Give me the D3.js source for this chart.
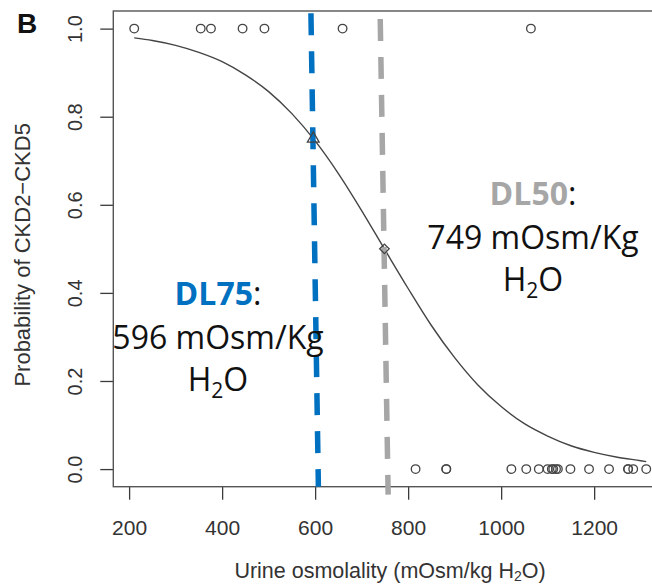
<!DOCTYPE html>
<html>
<head>
<meta charset="utf-8">
<script src="https://cdn.jsdelivr.net/npm/d3@7"></script>
<style>
  body { margin: 0; background: #fff; }
  svg { display: block; }
</style>
</head>
<body>
<script>
// data
var highOsm = [211, 354, 376, 444, 491, 659, 1064];               // observed at p = 1
var lowOsm = [816, 882, 882, 1022, 1054, 1081, 1100, 1109, 1112, 1118, 1122,
              1149, 1189, 1232, 1273, 1273, 1284, 1312];          // observed at p = 0
var curveX = [211, 250, 300, 350, 400, 450, 500, 550, 600, 650, 700, 750,
              800, 850, 900, 950, 1000, 1050, 1100, 1150, 1200, 1250, 1300, 1312];
var curveP = [0.979, 0.973, 0.962, 0.946, 0.925, 0.895, 0.857, 0.807, 0.745, 0.671, 0.587, 0.498,
              0.410, 0.326, 0.253, 0.191, 0.142, 0.103, 0.075, 0.053, 0.038, 0.027, 0.019, 0.017];
var dl75 = 596, dl50 = 749;
var dl75Line = [591, 607];   // hand-drawn guide, top / bottom x
var dl50Line = [740, 757];
var xTicks = [200, 400, 600, 800, 1000, 1200];
var yTicks = [0, 0.2, 0.4, 0.6, 0.8, 1.0];

var svgWidth = 652, svgHeight = 587;
var plotLeft = 113.3, plotRight = 666.7, plotTop = 11, plotBottom = 486.7;
var axisFont = 'Liberation Sans, Arial, sans-serif';
var noteFont = 'Open Sans, sans-serif';
var ink = '#3a3a3a';

var xScale = d3.scaleLinear().domain([166, 1356]).range([plotLeft, plotRight]);
var yScale = d3.scaleLinear().domain([-0.04, 1.04]).range([plotBottom, plotTop]);

var svg = d3.select('body')
    .append('svg')
    .attr('width', svgWidth)
    .attr('height', svgHeight);

// axes (R style)
var xAxis = d3.axisBottom(xScale).tickValues(xTicks).tickSize(13).tickSizeOuter(0).tickPadding(20)
    .tickFormat(d3.format('d'));
var gx = svg.append('g')
    .attr('transform', `translate(0, ${ plotBottom })`)
    .call(xAxis);
gx.select('.domain').remove();
gx.selectAll('line').attr('stroke', ink).attr('stroke-width', 1.3);
gx.selectAll('text')
    .attr('font-family', axisFont)
    .attr('font-size', 21)
    .attr('fill', '#333');

var yAxis = d3.axisLeft(yScale).tickValues(yTicks).tickSize(13).tickSizeOuter(0)
    .tickFormat(d3.format('.1f'));
var gy = svg.append('g')
    .attr('transform', `translate(${ plotLeft }, 0)`)
    .call(yAxis);
gy.select('.domain').remove();
gy.selectAll('line').attr('stroke', ink).attr('stroke-width', 1.3);
gy.selectAll('text')
    .attr('font-family', axisFont)
    .attr('font-size', 20)
    .attr('fill', '#333')
    .attr('text-anchor', 'middle')
    .attr('dy', null)
    .attr('x', null)
    .attr('transform', 'translate(-38, 0) rotate(-90)')
    .attr('dominant-baseline', 'central');

// box
svg.append('rect')
    .attr('x', plotLeft)
    .attr('y', plotTop)
    .attr('width', plotRight - plotLeft)
    .attr('height', plotBottom - plotTop)
    .attr('fill', 'none')
    .attr('stroke', '#555')
    .attr('stroke-width', 1.4);

// fitted curve
var line = d3.line()
    .x((d, i) => xScale(curveX[i]))
    .y(d => yScale(d))
    .curve(d3.curveMonotoneX);

svg.append('path')
    .attr('d', line(curveP))
    .attr('fill', 'none')
    .attr('stroke', '#444')
    .attr('stroke-width', 1.4);

// observations
var pts = highOsm.map(v => [v, 1]).concat(lowOsm.map(v => [v, 0]));
svg.append('g')
    .selectAll('circle')
    .data(pts)
    .enter()
    .append('circle')
    .attr('cx', d => xScale(d[0]))
    .attr('cy', d => yScale(d[1]))
    .attr('r', 4.3)
    .attr('fill', 'none')
    .attr('stroke', '#444')
    .attr('stroke-width', 1.3);

// guide lines
function guide(xs, p0, p1, color) {
    svg.append('line')
        .attr('x1', xScale(xs[0]))
        .attr('y1', yScale(p0))
        .attr('x2', xScale(xs[1]))
        .attr('y2', yScale(p1))
        .attr('stroke', color)
        .attr('stroke-width', 5.5)
        .attr('stroke-dasharray', '22 16');
}
guide(dl75Line, 1.035, -0.04, '#0070C0');
guide(dl50Line, 1.022, -0.058, '#A6A6A6');

// markers on the curve
var tri = d3.symbol().type(d3.symbolTriangle).size(60);
svg.append('path')
    .attr('d', tri())
    .attr('transform', `translate(${ xScale(dl75) }, ${ yScale(0.75) })`)
    .attr('fill', 'none')
    .attr('stroke', '#444')
    .attr('stroke-width', 1.3);
var dia = d3.symbol().type(d3.symbolSquare).size(45);
svg.append('path')
    .attr('d', dia())
    .attr('transform', `translate(${ xScale(dl50) }, ${ yScale(0.5) }) rotate(45)`)
    .attr('fill', 'none')
    .attr('stroke', '#444')
    .attr('stroke-width', 1.3);

// annotations
function note(cx, y0, name, value, color) {
    var g = svg.append('g')
        .attr('font-family', noteFont)
        .attr('font-size', 32)
        .attr('text-anchor', 'middle')
        .attr('fill', '#111');
    var t1 = g.append('text').attr('x', cx).attr('y', y0);
    t1.append('tspan').attr('fill', color).attr('font-weight', 'bold').text(name);
    t1.append('tspan').text(':');
    g.append('text').attr('x', cx).attr('y', y0 + 44).text(value + ' mOsm/Kg');
    var t3 = g.append('text').attr('x', cx).attr('y', y0 + 86);
    t3.append('tspan').text('H');
    t3.append('tspan').attr('font-size', 21).attr('dy', 7).text('2');
    t3.append('tspan').attr('dy', -7).text('O');
}
note(218, 305, 'DL75', dl75, '#0070C0');
note(533, 205, 'DL50', dl50, '#A6A6A6');

// titles
svg.append('text')
    .attr('x', (plotLeft + plotRight) / 2)
    .attr('y', 578)
    .attr('text-anchor', 'middle')
    .attr('font-family', axisFont)
    .attr('font-size', 21.5)
    .attr('fill', '#333')
    .call(t => {
        t.append('tspan').text('Urine osmolality (mOsm/kg H');
        t.append('tspan').attr('font-size', 14).attr('dy', 3).text('2');
        t.append('tspan').attr('dy', -3).text('O)');
    });

svg.append('text')
    .attr('transform', `translate(30, ${ (plotTop + plotBottom) / 2 + 6 }) rotate(-90)`)
    .attr('text-anchor', 'middle')
    .attr('font-family', axisFont)
    .attr('font-size', 22)
    .attr('fill', '#333')
    .text('Probability of CKD2\u2212CKD5');

svg.append('text')
    .attr('x', 17)
    .attr('y', 33)
    .attr('font-family', axisFont)
    .attr('font-weight', 'bold')
    .attr('font-size', 28)
    .attr('fill', '#111')
    .text('B');
</script>
</body>
</html>
